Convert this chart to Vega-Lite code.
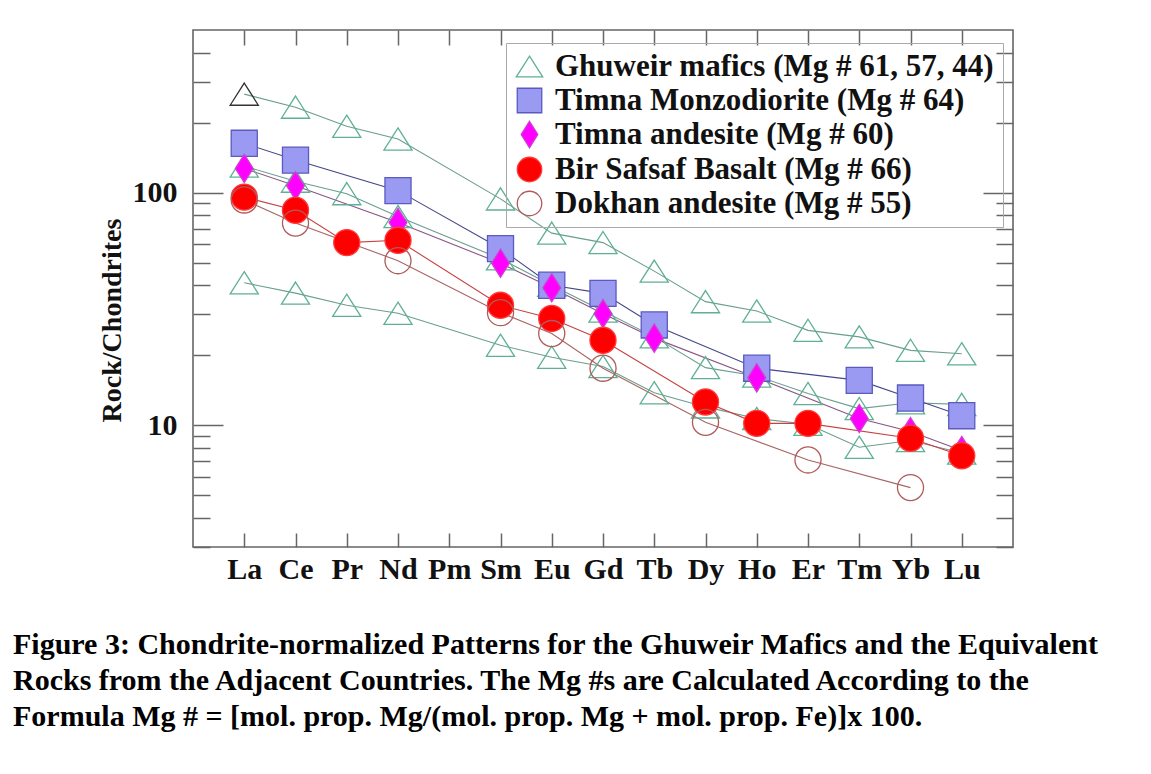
{
  "$schema": "https://vega.github.io/schema/vega-lite/v6.json",
  "width": 820,
  "height": 517,
  "autosize": {"type": "none"},
  "padding": {"left": 193, "top": 30, "right": 138, "bottom": 227},
  "background": "white",
  "config": {
    "view": {"stroke": "#666", "strokeWidth": 1.6},
    "font": "Liberation Serif",
    "axis": {
      "domain": false,
      "grid": false,
      "tickColor": "#666",
      "tickWidth": 1.5,
      "labelFont": "Liberation Serif",
      "labelFontWeight": "bold",
      "labelFontSize": 30,
      "labelColor": "#111",
      "titleFont": "Liberation Serif",
      "titleFontWeight": "bold",
      "titleFontSize": 28,
      "titleColor": "#111"
    }
  },
  "title": {
    "text": [
      "Figure 3: Chondrite-normalized Patterns for the Ghuweir Mafics and the Equivalent",
      "Rocks from the Adjacent Countries. The Mg #s are Calculated According to the",
      "Formula Mg # = [mol. prop. Mg/(mol. prop. Mg + mol. prop. Fe)]x 100."
    ],
    "orient": "bottom",
    "anchor": "start",
    "frame": "group",
    "dx": -180,
    "offset": 46,
    "font": "Liberation Serif",
    "fontSize": 30,
    "fontWeight": "bold",
    "lineHeight": 36,
    "color": "black"
  },
  "data": {
    "values": [
      {"el": "La", "v": 265, "s": "G1", "g": "Ghuweir mafics (Mg # 61, 57, 44)"},
      {"el": "Ce", "v": 233, "s": "G1", "g": "Ghuweir mafics (Mg # 61, 57, 44)"},
      {"el": "Pr", "v": 193, "s": "G1", "g": "Ghuweir mafics (Mg # 61, 57, 44)"},
      {"el": "Nd", "v": 170, "s": "G1", "g": "Ghuweir mafics (Mg # 61, 57, 44)"},
      {"el": "Sm", "v": 94, "s": "G1", "g": "Ghuweir mafics (Mg # 61, 57, 44)"},
      {"el": "Eu", "v": 67, "s": "G1", "g": "Ghuweir mafics (Mg # 61, 57, 44)"},
      {"el": "Gd", "v": 61, "s": "G1", "g": "Ghuweir mafics (Mg # 61, 57, 44)"},
      {"el": "Tb", "v": 46, "s": "G1", "g": "Ghuweir mafics (Mg # 61, 57, 44)"},
      {"el": "Dy", "v": 34, "s": "G1", "g": "Ghuweir mafics (Mg # 61, 57, 44)"},
      {"el": "Ho", "v": 31, "s": "G1", "g": "Ghuweir mafics (Mg # 61, 57, 44)"},
      {"el": "Er", "v": 25.6, "s": "G1", "g": "Ghuweir mafics (Mg # 61, 57, 44)"},
      {"el": "Tm", "v": 24, "s": "G1", "g": "Ghuweir mafics (Mg # 61, 57, 44)"},
      {"el": "Yb", "v": 21, "s": "G1", "g": "Ghuweir mafics (Mg # 61, 57, 44)"},
      {"el": "Lu", "v": 20.3, "s": "G1", "g": "Ghuweir mafics (Mg # 61, 57, 44)"},
      {"el": "La", "v": 130, "s": "G2", "g": "Ghuweir mafics (Mg # 61, 57, 44)"},
      {"el": "Ce", "v": 112, "s": "G2", "g": "Ghuweir mafics (Mg # 61, 57, 44)"},
      {"el": "Pr", "v": 99, "s": "G2", "g": "Ghuweir mafics (Mg # 61, 57, 44)"},
      {"el": "Nd", "v": 79, "s": "G2", "g": "Ghuweir mafics (Mg # 61, 57, 44)"},
      {"el": "Sm", "v": 52, "s": "G2", "g": "Ghuweir mafics (Mg # 61, 57, 44)"},
      {"el": "Eu", "v": 40, "s": "G2", "g": "Ghuweir mafics (Mg # 61, 57, 44)"},
      {"el": "Gd", "v": 31, "s": "G2", "g": "Ghuweir mafics (Mg # 61, 57, 44)"},
      {"el": "Tb", "v": 24, "s": "G2", "g": "Ghuweir mafics (Mg # 61, 57, 44)"},
      {"el": "Dy", "v": 17.7, "s": "G2", "g": "Ghuweir mafics (Mg # 61, 57, 44)"},
      {"el": "Ho", "v": 16.3, "s": "G2", "g": "Ghuweir mafics (Mg # 61, 57, 44)"},
      {"el": "Er", "v": 13.7, "s": "G2", "g": "Ghuweir mafics (Mg # 61, 57, 44)"},
      {"el": "Tm", "v": 11.8, "s": "G2", "g": "Ghuweir mafics (Mg # 61, 57, 44)"},
      {"el": "Yb", "v": 12.5, "s": "G2", "g": "Ghuweir mafics (Mg # 61, 57, 44)"},
      {"el": "Lu", "v": 12.3, "s": "G2", "g": "Ghuweir mafics (Mg # 61, 57, 44)"},
      {"el": "La", "v": 41, "s": "G3", "g": "Ghuweir mafics (Mg # 61, 57, 44)"},
      {"el": "Ce", "v": 37, "s": "G3", "g": "Ghuweir mafics (Mg # 61, 57, 44)"},
      {"el": "Pr", "v": 32.8, "s": "G3", "g": "Ghuweir mafics (Mg # 61, 57, 44)"},
      {"el": "Nd", "v": 30.3, "s": "G3", "g": "Ghuweir mafics (Mg # 61, 57, 44)"},
      {"el": "Sm", "v": 22.1, "s": "G3", "g": "Ghuweir mafics (Mg # 61, 57, 44)"},
      {"el": "Eu", "v": 19.6, "s": "G3", "g": "Ghuweir mafics (Mg # 61, 57, 44)"},
      {"el": "Gd", "v": 17.9, "s": "G3", "g": "Ghuweir mafics (Mg # 61, 57, 44)"},
      {"el": "Tb", "v": 13.8, "s": "G3", "g": "Ghuweir mafics (Mg # 61, 57, 44)"},
      {"el": "Dy", "v": 12.0, "s": "G3", "g": "Ghuweir mafics (Mg # 61, 57, 44)"},
      {"el": "Ho", "v": 10.7, "s": "G3", "g": "Ghuweir mafics (Mg # 61, 57, 44)"},
      {"el": "Er", "v": 10.1, "s": "G3", "g": "Ghuweir mafics (Mg # 61, 57, 44)"},
      {"el": "Tm", "v": 8.05, "s": "G3", "g": "Ghuweir mafics (Mg # 61, 57, 44)"},
      {"el": "Yb", "v": 8.6, "s": "G3", "g": "Ghuweir mafics (Mg # 61, 57, 44)"},
      {"el": "Lu", "v": 7.6, "s": "G3", "g": "Ghuweir mafics (Mg # 61, 57, 44)"},
      {"el": "La", "v": 163, "s": "TM", "g": "Timna Monzodiorite (Mg # 64)"},
      {"el": "Ce", "v": 138, "s": "TM", "g": "Timna Monzodiorite (Mg # 64)"},
      {"el": "Nd", "v": 102, "s": "TM", "g": "Timna Monzodiorite (Mg # 64)"},
      {"el": "Sm", "v": 57.5, "s": "TM", "g": "Timna Monzodiorite (Mg # 64)"},
      {"el": "Eu", "v": 40, "s": "TM", "g": "Timna Monzodiorite (Mg # 64)"},
      {"el": "Gd", "v": 36.9, "s": "TM", "g": "Timna Monzodiorite (Mg # 64)"},
      {"el": "Tb", "v": 27, "s": "TM", "g": "Timna Monzodiorite (Mg # 64)"},
      {"el": "Ho", "v": 17.6, "s": "TM", "g": "Timna Monzodiorite (Mg # 64)"},
      {"el": "Tm", "v": 15.6, "s": "TM", "g": "Timna Monzodiorite (Mg # 64)"},
      {"el": "Yb", "v": 13.1, "s": "TM", "g": "Timna Monzodiorite (Mg # 64)"},
      {"el": "Lu", "v": 11.0, "s": "TM", "g": "Timna Monzodiorite (Mg # 64)"},
      {"el": "La", "v": 127, "s": "TA", "g": "Timna andesite (Mg # 60)"},
      {"el": "Ce", "v": 107, "s": "TA", "g": "Timna andesite (Mg # 60)"},
      {"el": "Nd", "v": 74.5, "s": "TA", "g": "Timna andesite (Mg # 60)"},
      {"el": "Sm", "v": 49.7, "s": "TA", "g": "Timna andesite (Mg # 60)"},
      {"el": "Eu", "v": 39, "s": "TA", "g": "Timna andesite (Mg # 60)"},
      {"el": "Gd", "v": 30.2, "s": "TA", "g": "Timna andesite (Mg # 60)"},
      {"el": "Tb", "v": 23.7, "s": "TA", "g": "Timna andesite (Mg # 60)"},
      {"el": "Ho", "v": 16, "s": "TA", "g": "Timna andesite (Mg # 60)"},
      {"el": "Tm", "v": 10.7, "s": "TA", "g": "Timna andesite (Mg # 60)"},
      {"el": "Yb", "v": 9.4, "s": "TA", "g": "Timna andesite (Mg # 60)"},
      {"el": "Lu", "v": 7.8, "s": "TA", "g": "Timna andesite (Mg # 60)"},
      {"el": "La", "v": 95.7, "s": "BS", "g": "Bir Safsaf Basalt (Mg # 66)"},
      {"el": "Ce", "v": 84, "s": "BS", "g": "Bir Safsaf Basalt (Mg # 66)"},
      {"el": "Pr", "v": 61, "s": "BS", "g": "Bir Safsaf Basalt (Mg # 66)"},
      {"el": "Nd", "v": 62.4, "s": "BS", "g": "Bir Safsaf Basalt (Mg # 66)"},
      {"el": "Sm", "v": 32.8, "s": "BS", "g": "Bir Safsaf Basalt (Mg # 66)"},
      {"el": "Eu", "v": 28.8, "s": "BS", "g": "Bir Safsaf Basalt (Mg # 66)"},
      {"el": "Gd", "v": 23.2, "s": "BS", "g": "Bir Safsaf Basalt (Mg # 66)"},
      {"el": "Dy", "v": 12.6, "s": "BS", "g": "Bir Safsaf Basalt (Mg # 66)"},
      {"el": "Ho", "v": 10.2, "s": "BS", "g": "Bir Safsaf Basalt (Mg # 66)"},
      {"el": "Er", "v": 10.2, "s": "BS", "g": "Bir Safsaf Basalt (Mg # 66)"},
      {"el": "Yb", "v": 8.8, "s": "BS", "g": "Bir Safsaf Basalt (Mg # 66)"},
      {"el": "Lu", "v": 7.4, "s": "BS", "g": "Bir Safsaf Basalt (Mg # 66)"},
      {"el": "La", "v": 93, "s": "DA", "g": "Dokhan andesite (Mg # 55)"},
      {"el": "Ce", "v": 74, "s": "DA", "g": "Dokhan andesite (Mg # 55)"},
      {"el": "Nd", "v": 51, "s": "DA", "g": "Dokhan andesite (Mg # 55)"},
      {"el": "Sm", "v": 30.5, "s": "DA", "g": "Dokhan andesite (Mg # 55)"},
      {"el": "Eu", "v": 24.8, "s": "DA", "g": "Dokhan andesite (Mg # 55)"},
      {"el": "Gd", "v": 17.6, "s": "DA", "g": "Dokhan andesite (Mg # 55)"},
      {"el": "Dy", "v": 10.3, "s": "DA", "g": "Dokhan andesite (Mg # 55)"},
      {"el": "Er", "v": 7.1, "s": "DA", "g": "Dokhan andesite (Mg # 55)"},
      {"el": "Yb", "v": 5.4, "s": "DA", "g": "Dokhan andesite (Mg # 55)"}
    ]
  },
  "resolve": {"axis": {"x": "independent", "y": "independent"}},
  "layer": [
    {
      "mark": {"type": "line", "strokeWidth": 1.1},
      "encoding": {
        "x": {
          "field": "el", "type": "ordinal",
          "sort": ["La","Ce","Pr","Nd","Pm","Sm","Eu","Gd","Tb","Dy","Ho","Er","Tm","Yb","Lu"],
          "scale": {"type": "point", "domain": ["La","Ce","Pr","Nd","Pm","Sm","Eu","Gd","Tb","Dy","Ho","Er","Tm","Yb","Lu"], "padding": 1},
          "axis": {"orient": "bottom", "title": null, "labelAngle": 0, "tickSize": -14, "labelPadding": 21}
        },
        "y": {
          "field": "v", "type": "quantitative",
          "scale": {"type": "log", "domain": [3, 500], "nice": false},
          "axis": {"orient": "left", "values": [10, 100], "format": "d", "tickSize": -30, "labelPadding": 46, "title": "Rock/Chondrites", "titleX": -73, "titleY": 290, "titleBaseline": "alphabetic", "titleAngle": 270}
        },
        "color": {
          "field": "s", "type": "nominal", "legend": null,
          "scale": {
            "domain": ["G1", "G2", "G3", "TM", "TA", "BS", "DA"],
            "range": ["#6a9e8e", "#6a9e8e", "#6a9e8e", "#45458a", "#8a5585", "#c84040", "#a86565"]
          }
        }
      }
    },
    {
      "mark": {"type": "point", "size": 680, "strokeWidth": 1.3, "opacity": 1},
      "encoding": {
        "x": {
          "field": "el", "type": "ordinal",
          "sort": ["La","Ce","Pr","Nd","Pm","Sm","Eu","Gd","Tb","Dy","Ho","Er","Tm","Yb","Lu"],
          "scale": {"type": "point", "domain": ["La","Ce","Pr","Nd","Pm","Sm","Eu","Gd","Tb","Dy","Ho","Er","Tm","Yb","Lu"], "padding": 1},
          "axis": {"orient": "top", "title": null, "labels": false, "tickSize": -15}
        },
        "y": {
          "field": "v", "type": "quantitative",
          "scale": {"type": "log", "domain": [3, 500], "nice": false},
          "axis": {"orient": "left", "values": [3,4,5,6,7,8,9,20,30,40,50,60,70,80,90,200,300,400], "labels": false, "tickSize": -17, "title": null}
        },
        "shape": {
          "field": "g", "type": "nominal",
          "scale": {
            "domain": ["Ghuweir mafics (Mg # 61, 57, 44)", "Timna Monzodiorite (Mg # 64)", "Timna andesite (Mg # 60)", "Bir Safsaf Basalt (Mg # 66)", "Dokhan andesite (Mg # 55)"],
            "range": ["M0,-0.85L1.08,0.85L-1.08,0.85Z", "square", "M0,-1.08L0.68,0L0,1.08L-0.68,0Z", "circle", "circle"]
          },
          "legend": {"title": null, "orient": "none", "legendX": 313, "legendY": 13, "labelFont": "Liberation Serif", "labelFontWeight": "bold", "labelFontSize": 31, "labelLimit": 1000, "labelColor": "#111", "symbolSize": 600, "symbolStrokeWidth": 1.3, "rowPadding": 2, "labelOffset": 10, "padding": 8, "strokeColor": "#aaa"}
        },
        "fill": {
          "field": "g", "type": "nominal",
          "scale": {
            "domain": ["Ghuweir mafics (Mg # 61, 57, 44)", "Timna Monzodiorite (Mg # 64)", "Timna andesite (Mg # 60)", "Bir Safsaf Basalt (Mg # 66)", "Dokhan andesite (Mg # 55)"],
            "range": ["transparent", "#9a9af2", "#ff00ff", "#ff0000", "transparent"]
          },
          "legend": {"title": null, "orient": "none", "legendX": 313, "legendY": 13, "labelFont": "Liberation Serif", "labelFontWeight": "bold", "labelFontSize": 31, "labelLimit": 1000, "labelColor": "#111", "symbolSize": 600, "symbolStrokeWidth": 1.3, "rowPadding": 2, "labelOffset": 10, "padding": 8, "strokeColor": "#aaa"}
        },
        "stroke": {
          "condition": {"test": "datum.s === 'G1' && datum.el === 'La'", "value": "#333333"},
          "field": "g", "type": "nominal",
          "scale": {
            "domain": ["Ghuweir mafics (Mg # 61, 57, 44)", "Timna Monzodiorite (Mg # 64)", "Timna andesite (Mg # 60)", "Bir Safsaf Basalt (Mg # 66)", "Dokhan andesite (Mg # 55)"],
            "range": ["#5fb095", "#5a5ac0", "#d040d0", "#ff3a3a", "#b05a5a"]
          },
          "legend": {"title": null, "orient": "none", "legendX": 313, "legendY": 13, "labelFont": "Liberation Serif", "labelFontWeight": "bold", "labelFontSize": 31, "labelLimit": 1000, "labelColor": "#111", "symbolSize": 600, "symbolStrokeWidth": 1.3, "rowPadding": 2, "labelOffset": 10, "padding": 8, "strokeColor": "#aaa"}
        }
      }
    },
    {
      "mark": {"type": "point", "opacity": 0},
      "encoding": {
        "x": {
          "field": "el", "type": "ordinal",
          "sort": ["La","Ce","Pr","Nd","Pm","Sm","Eu","Gd","Tb","Dy","Ho","Er","Tm","Yb","Lu"],
          "scale": {"type": "point", "domain": ["La","Ce","Pr","Nd","Pm","Sm","Eu","Gd","Tb","Dy","Ho","Er","Tm","Yb","Lu"], "padding": 1},
          "axis": null
        },
        "y": {
          "field": "v", "type": "quantitative",
          "scale": {"type": "log", "domain": [3, 500], "nice": false},
          "axis": {"orient": "right", "values": [10, 100], "labels": false, "tickSize": -30, "title": null}
        }
      }
    },
    {
      "mark": {"type": "point", "opacity": 0},
      "encoding": {
        "x": {
          "field": "el", "type": "ordinal",
          "sort": ["La","Ce","Pr","Nd","Pm","Sm","Eu","Gd","Tb","Dy","Ho","Er","Tm","Yb","Lu"],
          "scale": {"type": "point", "domain": ["La","Ce","Pr","Nd","Pm","Sm","Eu","Gd","Tb","Dy","Ho","Er","Tm","Yb","Lu"], "padding": 1},
          "axis": null
        },
        "y": {
          "field": "v", "type": "quantitative",
          "scale": {"type": "log", "domain": [3, 500], "nice": false},
          "axis": {"orient": "right", "values": [3,4,5,6,7,8,9,20,30,40,50,60,70,80,90,200,300,400], "labels": false, "tickSize": -17, "title": null}
        }
      }
    }
  ]
}
